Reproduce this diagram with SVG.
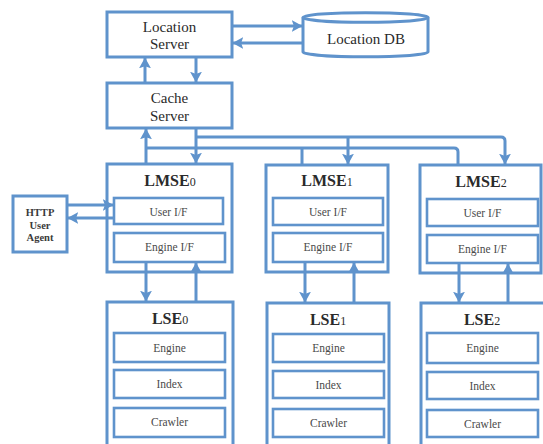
<svg xmlns="http://www.w3.org/2000/svg" width="543" height="444" viewBox="0 0 543 444">
<style>
.box{fill:#fff;stroke:#5f93cc;stroke-width:3}
.in{fill:#fff;stroke:#5f93cc;stroke-width:2.6}
.c{fill:none;stroke:#5f93cc;stroke-width:3}
text{font-family:"Liberation Serif","DejaVu Serif","Times New Roman",serif;fill:#2a2a2a;text-anchor:middle}
.h{font-size:15px}
.ti{font-size:16px;font-weight:bold}
.s{font-size:11.5px;fill:#4a4a4a}
.u{font-size:10.5px;fill:#3a3a3a;font-weight:bold}
</style>
<defs>
<marker id="ar" viewBox="0 0 10 12" refX="9.5" refY="6" markerWidth="11" markerHeight="13" orient="auto" markerUnits="userSpaceOnUse">
<path d="M0,0.5 L10,6 L0,11.5 L2,6 z" fill="#5f93cc"/>
</marker>
</defs>
<rect width="543" height="444" fill="#fff"/>
<g id="location-server"><rect class="box" x="107" y="12" width="125" height="45"/><text class="h" x="169.5" y="32">Location</text><text class="h" x="169.5" y="49">Server</text></g>
<g id="location-db"><path class="box" d="M303,17.5 V52 A62.5,4.8 0 0 0 428,52 V17.5 A62.5,4.8 0 0 0 303,17.5 Z"/><path class="c" d="M303,17.5 A62.5,4.8 0 0 0 428,17.5" stroke-width="2.6"/><text class="h" x="366" y="44">Location DB</text></g>
<g id="cache-server"><rect class="box" x="107" y="83" width="125" height="45"/><text class="h" x="169.5" y="103">Cache</text><text class="h" x="169.5" y="121">Server</text></g>
<g id="http-agent"><rect class="box" x="13" y="196" width="54" height="56"/><text class="u" x="40" y="216">HTTP</text><text class="u" x="40" y="229">User</text><text class="u" x="40" y="241">Agent</text></g>
<g id="lmse0"><rect class="box" x="107" y="164" width="125" height="108"/><text class="ti" x="170" y="186">LMSE<tspan font-size="12" font-weight="normal">0</tspan></text>
<rect class="in" x="114" y="198" width="109" height="26"/><text class="s" x="168.5" y="216">User I/F</text>
<rect class="in" x="114" y="233" width="111" height="29"/><text class="s" x="169.5" y="251">Engine I/F</text></g>
<g id="lmse1"><rect class="box" x="266" y="165" width="122" height="107"/><text class="ti" x="327" y="186">LMSE<tspan font-size="12" font-weight="normal">1</tspan></text>
<rect class="in" x="273" y="198" width="110" height="27"/><text class="s" x="328" y="216">User I/F</text>
<rect class="in" x="273" y="233" width="110" height="29"/><text class="s" x="328" y="251">Engine I/F</text></g>
<g id="lmse2"><rect class="box" x="420" y="165" width="121" height="108"/><text class="ti" x="481" y="187">LMSE<tspan font-size="12" font-weight="normal">2</tspan></text>
<rect class="in" x="427" y="199" width="111" height="27"/><text class="s" x="482.5" y="217">User I/F</text>
<rect class="in" x="427" y="235" width="111" height="28"/><text class="s" x="482.5" y="253">Engine I/F</text></g>
<g id="lse0"><rect class="box" x="107" y="302" width="126" height="150"/><text class="ti" x="170" y="324">LSE<tspan font-size="12" font-weight="normal">0</tspan></text>
<rect class="in" x="114" y="333" width="111" height="29"/><text class="s" x="169.5" y="352">Engine</text>
<rect class="in" x="114" y="370" width="111" height="28"/><text class="s" x="169.5" y="388">Index</text>
<rect class="in" x="114" y="408" width="111" height="29"/><text class="s" x="169.5" y="426">Crawler</text></g>
<g id="lse1"><rect class="box" x="267" y="303" width="122" height="150"/><text class="ti" x="328" y="325">LSE<tspan font-size="12" font-weight="normal">1</tspan></text>
<rect class="in" x="273" y="334" width="111" height="28"/><text class="s" x="328.5" y="352">Engine</text>
<rect class="in" x="273" y="371" width="111" height="27"/><text class="s" x="328.5" y="389">Index</text>
<rect class="in" x="273" y="409" width="111" height="28"/><text class="s" x="328.5" y="427">Crawler</text></g>
<g id="lse2"><rect class="box" x="421" y="303" width="124" height="150"/><text class="ti" x="482" y="325">LSE<tspan font-size="12" font-weight="normal">2</tspan></text>
<rect class="in" x="427" y="333" width="111" height="30"/><text class="s" x="482.5" y="352">Engine</text>
<rect class="in" x="427" y="372" width="111" height="27"/><text class="s" x="482.5" y="390">Index</text>
<rect class="in" x="427" y="410" width="111" height="27"/><text class="s" x="482.5" y="428">Crawler</text></g>
<g id="connectors">
<path class="c" d="M145,83 V58" marker-end="url(#ar)"/>
<path class="c" d="M196,57 V82" marker-end="url(#ar)"/>
<path class="c" d="M232,26 H302" marker-end="url(#ar)"/>
<path class="c" d="M303,43 H233" marker-end="url(#ar)"/>
<path class="c" d="M146,164 V129" marker-end="url(#ar)"/>
<path class="c" d="M458,165 V152 Q458,148 454,148 H146"/>
<path class="c" d="M302,165 V148"/>
<path class="c" d="M196,128 V163" marker-end="url(#ar)"/>
<path class="c" d="M196,137 H501 Q505,137 505,141 V164" marker-end="url(#ar)"/>
<path class="c" d="M348,137 V164" marker-end="url(#ar)"/>
<path class="c" d="M67,205 H113" marker-end="url(#ar)"/>
<path class="c" d="M114,218 H68" marker-end="url(#ar)"/>
<path class="c" d="M146,262 V301" marker-end="url(#ar)"/>
<path class="c" d="M196,302 V263" marker-end="url(#ar)"/>
<path class="c" d="M305,262 V302" marker-end="url(#ar)"/>
<path class="c" d="M354,303 V263" marker-end="url(#ar)"/>
<path class="c" d="M459,263 V302" marker-end="url(#ar)"/>
<path class="c" d="M508,303 V264" marker-end="url(#ar)"/>
</g>
</svg>
